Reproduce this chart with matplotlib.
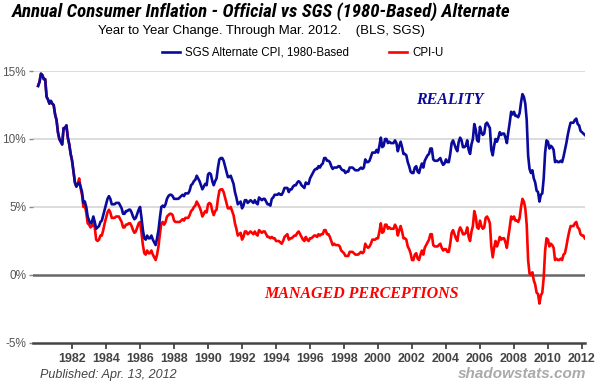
import numpy as np
import matplotlib
matplotlib.use("Agg")
import matplotlib.pyplot as plt
from matplotlib import font_manager

# monthly year-to-year change (%), Jan 1980 .. Mar 2012
cpi_u = [
    13.9, 14.2, 14.8, 14.7, 14.4, 14.4, 13.1, 12.9, 12.6, 12.8, 12.6, 12.5,  # 1980
    11.8, 11.4, 10.5, 10.0, 9.8, 9.6, 10.8, 10.8, 11.0, 10.1, 9.6, 8.9,  # 1981
    8.4, 7.6, 6.8, 6.5, 6.7, 7.1, 6.4, 5.9, 5.0, 5.1, 4.6, 3.8,  # 1982
    3.7, 3.5, 3.6, 3.9, 3.5, 2.6, 2.5, 2.6, 2.9, 2.9, 3.3, 3.8,  # 1983
    4.2, 4.6, 4.8, 4.6, 4.2, 4.2, 4.2, 4.3, 4.3, 4.3, 4.1, 3.9,  # 1984
    3.5, 3.5, 3.7, 3.7, 3.8, 3.8, 3.6, 3.3, 3.1, 3.2, 3.5, 3.8,  # 1985
    3.9, 3.1, 2.2, 1.6, 1.5, 1.8, 1.6, 1.6, 1.8, 1.5, 1.3, 1.1,  # 1986
    1.5, 2.1, 3.0, 3.8, 3.9, 3.7, 3.9, 4.3, 4.4, 4.5, 4.5, 4.4,  # 1987
    4.0, 3.9, 3.9, 3.9, 3.9, 4.0, 4.1, 4.0, 4.2, 4.2, 4.2, 4.4,  # 1988
    4.7, 4.8, 5.0, 5.1, 5.4, 5.2, 5.0, 4.7, 4.3, 4.5, 4.7, 4.6,  # 1989
    5.2, 5.3, 5.2, 4.7, 4.4, 4.7, 4.8, 5.6, 6.2, 6.3, 6.3, 6.1,  # 1990
    5.7, 5.3, 4.9, 4.9, 5.0, 4.7, 4.4, 3.8, 3.4, 2.9, 3.0, 3.1,  # 1991
    2.6, 2.8, 3.2, 3.2, 3.0, 3.1, 3.2, 3.1, 3.0, 3.2, 3.0, 2.9,  # 1992
    3.3, 3.2, 3.1, 3.2, 3.2, 3.0, 2.8, 2.8, 2.7, 2.8, 2.7, 2.7,  # 1993
    2.5, 2.5, 2.5, 2.4, 2.3, 2.5, 2.8, 2.9, 3.0, 2.6, 2.7, 2.7,  # 1994
    2.8, 2.9, 2.9, 3.1, 3.2, 3.0, 2.8, 2.6, 2.5, 2.8, 2.6, 2.5,  # 1995
    2.7, 2.7, 2.8, 2.9, 2.9, 2.8, 3.0, 2.9, 3.0, 3.0, 3.3, 3.3,  # 1996
    3.0, 3.0, 2.8, 2.5, 2.2, 2.3, 2.2, 2.2, 2.2, 2.1, 1.8, 1.7,  # 1997
    1.6, 1.4, 1.4, 1.4, 1.7, 1.7, 1.7, 1.6, 1.5, 1.5, 1.5, 1.6,  # 1998
    1.7, 1.6, 1.7, 2.3, 2.1, 2.0, 2.1, 2.3, 2.6, 2.6, 2.6, 2.7,  # 1999
    2.7, 3.2, 3.8, 3.1, 3.2, 3.7, 3.7, 3.4, 3.5, 3.4, 3.4, 3.4,  # 2000
    3.7, 3.5, 2.9, 3.3, 3.6, 3.2, 2.7, 2.7, 2.6, 2.1, 1.9, 1.6,  # 2001
    1.1, 1.1, 1.5, 1.6, 1.2, 1.1, 1.5, 1.8, 1.5, 2.0, 2.2, 2.4,  # 2002
    2.6, 3.0, 3.0, 2.2, 2.1, 2.1, 2.1, 2.2, 2.3, 2.0, 1.8, 1.9,  # 2003
    1.9, 1.7, 1.7, 2.3, 3.1, 3.3, 3.0, 2.7, 2.5, 3.2, 3.5, 3.3,  # 2004
    3.0, 3.0, 3.1, 3.5, 2.8, 2.5, 3.2, 3.6, 4.7, 4.3, 3.5, 3.4,  # 2005
    4.0, 3.6, 3.4, 3.5, 4.2, 4.3, 4.1, 3.8, 2.1, 1.3, 2.0, 2.5,  # 2006
    2.1, 2.4, 2.8, 2.6, 2.7, 2.7, 2.4, 2.0, 2.8, 3.5, 4.3, 4.1,  # 2007
    4.3, 4.0, 4.0, 3.9, 4.2, 5.0, 5.6, 5.4, 4.9, 3.7, 1.1, 0.1,  # 2008
    0.0, 0.2, -0.4, -0.7, -1.3, -1.4, -2.1, -1.5, -1.3, -0.2, 1.8, 2.7,  # 2009
    2.6, 2.1, 2.3, 2.2, 2.0, 1.1, 1.2, 1.1, 1.1, 1.2, 1.1, 1.5,  # 2010
    1.6, 2.1, 2.7, 3.2, 3.6, 3.6, 3.6, 3.8, 3.9, 3.5, 3.4, 3.0,  # 2011
    2.9, 2.9, 2.7,  # 2012
]

sgs_1980 = [
    13.9, 14.2, 14.8, 14.7, 14.4, 14.4, 13.1, 12.9, 12.6, 12.8, 12.6, 12.5,  # 1980
    11.8, 11.4, 10.5, 10.0, 9.8, 9.6, 10.8, 10.8, 11.0, 10.1, 9.6, 8.9,  # 1981
    8.4, 7.6, 6.8, 6.5, 6.7, 6.8, 6.5, 6.1, 5.3, 5.4, 5.0, 4.3,  # 1982
    4.0, 3.8, 3.9, 4.3, 3.9, 3.4, 3.5, 3.6, 3.9, 4.0, 4.4, 4.8,  # 1983
    5.2, 5.6, 5.8, 5.6, 5.2, 5.2, 5.2, 5.3, 5.3, 5.3, 5.1, 4.9,  # 1984
    4.5, 4.5, 4.7, 4.7, 4.8, 4.8, 4.6, 4.3, 4.1, 4.2, 4.5, 4.8,  # 1985
    5.0, 4.2, 3.3, 2.7, 2.6, 2.9, 2.7, 2.7, 2.9, 2.6, 2.4, 2.2,  # 1986
    2.7, 3.3, 4.2, 5.0, 5.1, 5.0, 5.2, 5.6, 5.8, 5.9, 5.9, 5.8,  # 1987
    5.6, 5.6, 5.6, 5.6, 5.7, 5.8, 5.9, 5.8, 6.0, 6.0, 6.0, 6.2,  # 1988
    6.6, 6.7, 6.9, 7.0, 7.3, 7.1, 6.9, 6.6, 6.3, 6.5, 6.7, 6.6,  # 1989
    7.4, 7.5, 7.4, 6.9, 6.6, 6.9, 7.1, 7.9, 8.5, 8.6, 8.6, 8.4,  # 1990
    8.0, 7.6, 7.2, 7.2, 7.3, 7.0, 6.7, 6.1, 5.7, 5.2, 5.3, 5.4,  # 1991
    4.9, 5.1, 5.5, 5.5, 5.3, 5.4, 5.5, 5.4, 5.3, 5.5, 5.3, 5.2,  # 1992
    5.7, 5.6, 5.5, 5.6, 5.6, 5.4, 5.2, 5.2, 5.1, 5.6, 5.7, 5.9,  # 1993
    5.9, 5.9, 6.0, 5.9, 5.9, 6.1, 6.4, 6.4, 6.4, 6.1, 6.3, 6.3,  # 1994
    6.5, 6.6, 6.6, 6.8, 6.9, 6.8, 6.6, 6.5, 6.4, 6.8, 6.7, 6.7,  # 1995
    7.1, 7.3, 7.5, 7.7, 7.8, 7.8, 8.0, 7.9, 8.1, 8.2, 8.6, 8.6,  # 1996
    8.4, 8.4, 8.3, 8.0, 7.8, 7.9, 7.9, 7.9, 8.0, 8.0, 7.8, 7.7,  # 1997
    7.7, 7.5, 7.6, 7.6, 7.9, 7.9, 7.9, 7.8, 7.7, 7.7, 7.7, 7.8,  # 1998
    7.9, 7.8, 7.9, 8.5, 8.3, 8.3, 8.4, 8.7, 9.0, 9.0, 9.0, 9.2,  # 1999
    9.0, 9.5, 10.1, 9.4, 9.5, 10.0, 10.0, 9.7, 9.8, 9.7, 9.7, 9.7,  # 2000
    9.9, 9.7, 9.1, 9.5, 9.8, 9.4, 8.9, 8.9, 8.8, 8.3, 8.0, 7.6,  # 2001
    7.5, 7.5, 7.9, 8.0, 7.6, 7.5, 7.9, 8.2, 7.9, 8.4, 8.6, 8.8,  # 2002
    8.9, 9.3, 9.3, 8.5, 8.4, 8.4, 8.4, 8.5, 8.6, 8.3, 8.1, 8.2,  # 2003
    8.5, 8.3, 8.3, 8.9, 9.7, 9.9, 9.6, 9.3, 9.1, 9.8, 10.1, 9.9,  # 2004
    9.4, 9.4, 9.5, 9.9, 9.2, 8.9, 9.6, 10.0, 11.1, 10.7, 9.9, 9.8,  # 2005
    10.9, 10.5, 10.3, 10.4, 11.1, 11.2, 11.0, 10.8, 9.2, 8.8, 9.5, 10.0,  # 2006
    9.8, 10.1, 10.5, 10.3, 10.4, 10.4, 10.1, 9.7, 10.5, 11.2, 12.0, 11.8,  # 2007
    12.0, 11.7, 11.7, 11.6, 11.9, 12.7, 13.3, 13.1, 12.6, 11.4, 8.8, 7.8,  # 2008
    7.5, 7.7, 7.1, 6.8, 6.2, 6.1, 5.4, 5.9, 6.0, 7.1, 9.0, 9.9,  # 2009
    9.8, 9.3, 9.5, 9.4, 9.2, 8.3, 8.4, 8.3, 8.3, 8.4, 8.3, 8.7,  # 2010
    9.2, 9.7, 10.3, 10.8, 11.2, 11.2, 11.2, 11.4, 11.5, 11.1, 11.0, 10.6,  # 2011
    10.5, 10.4, 10.3,  # 2012
]

year_ticks = list(range(1982, 2013, 2))
pct_ticks = [-5, 0, 5, 10, 15]
pct_labels = ["-5%", "0%", "5%", "10%", "15%"]

# decimal years, Jan 1980 = 1980.0
t = 1980 + np.arange(len(cpi_u)) / 12.0

sans = ["Liberation Sans", "DejaVu Sans"]
serif = ["Liberation Serif", "DejaVu Serif"]
# condensed face for the title if one is installed
installed = {f.name for f in font_manager.fontManager.ttflist}
title_font = sans
for name in ["Liberation Sans Narrow", "DejaVu Sans Condensed", "Roboto Condensed"]:
    if name in installed:
        title_font = [name] + sans
        break

fig = plt.figure(figsize=(6.0, 3.84), dpi=100)
ax = fig.add_axes([0.055, 0.1068, 0.92, 0.7083])

blue = "#0a0a9c"
red = "#ff0000"
l_red, = ax.plot(t, cpi_u, color=red, lw=1.9, solid_joinstyle="round", zorder=3)
l_blue, = ax.plot(t, sgs_1980, color=blue, lw=1.9, solid_joinstyle="round", zorder=4)

ax.set_xlim(1979.7, 2012.18)
ax.set_ylim(-5, 15)

for v in [5, 10, 15]:
    ax.axhline(v, color="#d9d9d9", lw=1.3, zorder=1)
ax.axhline(0, color="#666666", lw=1.8, zorder=2)

for s in ["top", "right", "left"]:
    ax.spines[s].set_visible(False)
ax.spines["bottom"].set_color("#444444")
ax.spines["bottom"].set_linewidth(1.8)

ax.set_xticks(year_ticks)
ax.set_xticklabels([str(y) for y in year_ticks], fontfamily=sans,
                   fontweight="bold", fontsize=9, color="#444444")
ax.tick_params(axis="x", length=4, width=1.3, color="#444444", pad=3)

ax.set_yticks(pct_ticks)
ax.set_yticklabels(pct_labels, fontfamily=sans, fontsize=8.5, color="#555555")
ax.tick_params(axis="y", length=3, width=1, color="#888888", pad=2)

title = fig.text(0.435, 0.969,
                 "Annual Consumer Inflation - Official vs SGS (1980-Based) Alternate",
                 ha="center", va="center", fontfamily=title_font, fontweight="bold",
                 fontstyle="italic", fontsize=13)
# shrink the title to the width it has in the original (~498 px)
fig.canvas.draw()
w = title.get_window_extent().width
title.set_fontsize(13 * 498.0 / w)

fig.text(0.435, 0.919, "Year to Year Change. Through Mar. 2012.    (BLS, SGS)",
         ha="center", va="center", fontfamily=sans, fontsize=9.5)

fig.legend([l_blue, l_red], ["SGS Alternate CPI, 1980-Based", "CPI-U"],
           loc="center", bbox_to_anchor=(0.504, 0.862), ncol=2, frameon=False,
           prop={"family": sans, "size": 8.3}, handlelength=1.6,
           handletextpad=0.4, columnspacing=3.5)

ax.text(2004.2, 12.85, "REALITY", color=blue, fontfamily=serif, fontweight="bold",
        fontstyle="italic", fontsize=11.5, ha="center", va="center")
ax.text(1999.0, -1.4, "MANAGED PERCEPTIONS", color=red, fontfamily=serif,
        fontweight="bold", fontstyle="italic", fontsize=11.5, ha="center", va="center")

fig.text(0.067, 0.023, "Published: Apr. 13, 2012", ha="left", va="center",
         fontfamily=sans, fontstyle="italic", fontsize=9, color="#444444")
fig.text(0.977, 0.026, "shadowstats.com", ha="right", va="center",
         fontfamily=sans, fontweight="bold", fontstyle="italic", fontsize=11,
         color="#aaaaaa")

fig.savefig("out.png", dpi=100, facecolor="white")
